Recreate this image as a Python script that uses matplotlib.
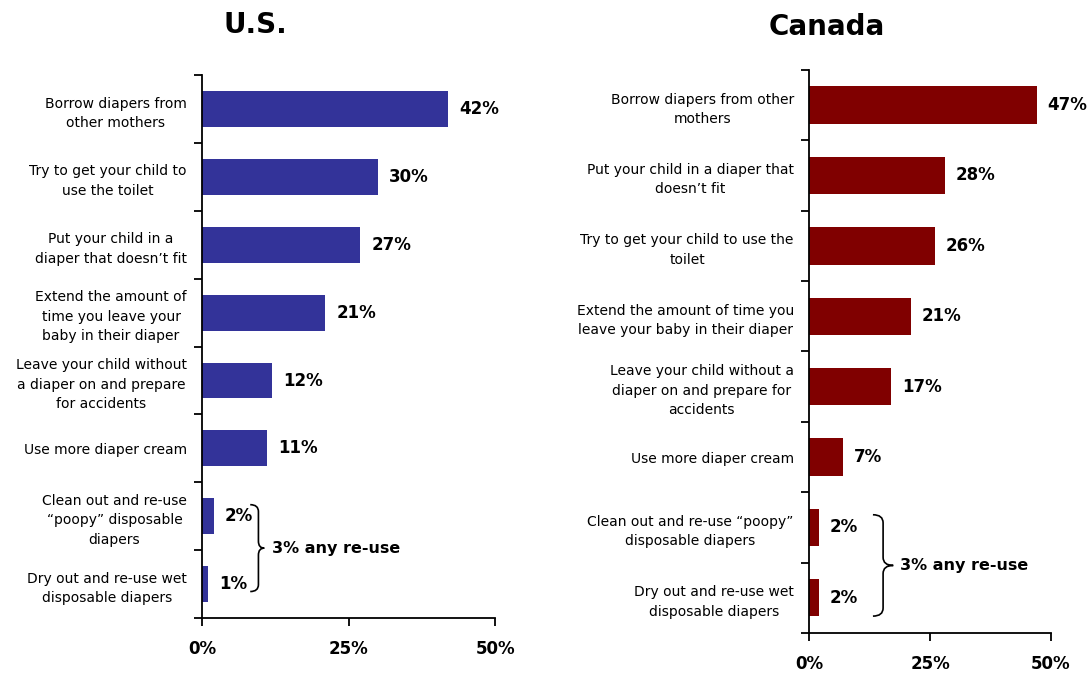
import matplotlib.pyplot as plt
from matplotlib.path import Path
from matplotlib.patches import PathPatch
import numpy as np

# data
us_labels = ['Borrow diapers from\nother mothers',
             'Try to get your child to\nuse the toilet',
             'Put your child in a\ndiaper that doesn\u2019t fit',
             'Extend the amount of\ntime you leave your\nbaby in their diaper',
             'Leave your child without\na diaper on and prepare\nfor accidents',
             'Use more diaper cream',
             'Clean out and re-use\n\u201cpoopy\u201d disposable\ndiapers',
             'Dry out and re-use wet\ndisposable diapers']
us_values = [42, 30, 27, 21, 12, 11, 2, 1]

ca_labels = ['Borrow diapers from other\nmothers',
             'Put your child in a diaper that\ndoesn\u2019t fit',
             'Try to get your child to use the\ntoilet',
             'Extend the amount of time you\nleave your baby in their diaper',
             'Leave your child without a\ndiaper on and prepare for\naccidents',
             'Use more diaper cream',
             'Clean out and re-use \u201cpoopy\u201d\ndisposable diapers',
             'Dry out and re-use wet\ndisposable diapers']
ca_values = [47, 28, 26, 21, 17, 7, 2, 2]

reuse_text = '3% any re-use'
x_ticks = [0, 25, 50]
x_ticklabels = ['0%', '25%', '50%']

plt.rcParams['font.family'] = 'DejaVu Sans'

fig = plt.figure(figsize=(10.87, 6.76), dpi=100)


def brace(ax, x0, xv, xtip, ytop, ybot):
    ymid = (ytop + ybot) / 2
    r = (ybot - ytop) * 0.08
    verts = [(x0, ytop), (xv, ytop), (xv, ytop + r),
             (xv, ymid - r),
             (xv, ymid), (xtip, ymid),
             (xv, ymid), (xv, ymid + r),
             (xv, ybot - r),
             (xv, ybot), (x0, ybot)]
    codes = [Path.MOVETO, Path.CURVE3, Path.CURVE3,
             Path.LINETO,
             Path.CURVE3, Path.CURVE3,
             Path.CURVE3, Path.CURVE3,
             Path.LINETO,
             Path.CURVE3, Path.CURVE3]
    ax.add_patch(PathPatch(Path(verts, codes), fill=False, lw=1.2,
                           edgecolor='black', clip_on=False))


def panel(rect, labels, values, color, brace_x, text_x, brace_y):
    ax = fig.add_axes(rect)
    y = np.arange(len(values))
    ax.barh(y, values, height=0.53, color=color)
    ax.set_xlim(0, 50)
    ax.set_ylim(len(values) - 0.5, -0.5)
    for s in ['top', 'right']:
        ax.spines[s].set_visible(False)
    ax.spines['left'].set_linewidth(1.3)
    ax.spines['bottom'].set_linewidth(1.3)
    ax.set_yticks(y)
    ax.set_yticklabels(labels, fontsize=10, linespacing=1.5)
    for t in ax.get_yticklabels():
        t.set_ha('right')
        t.set_multialignment('center')
    ax.tick_params(axis='y', which='major', length=0, pad=11)
    ax.set_yticks(np.arange(len(values) + 1) - 0.5, minor=True)
    ax.tick_params(axis='y', which='minor', length=6, width=1.3)
    ax.set_xticks(x_ticks)
    ax.set_xticklabels(x_ticklabels, fontsize=12, fontweight='bold')
    ax.tick_params(axis='x', length=6, width=1.3, pad=10)
    for yi, v in zip(y, values):
        ax.annotate(f'{v}%', (v, yi), xytext=(8, 0), textcoords='offset points',
                    va='center', ha='left', fontsize=12, fontweight='bold')
    x0, xv, xtip = brace_x
    brace(ax, x0, xv, xtip, brace_y[0], brace_y[1])
    ax.text(text_x, (brace_y[0] + brace_y[1]) / 2, reuse_text, va='center',
            ha='left', fontsize=11.5, fontweight='bold')
    return ax


ax1 = panel([0.186, 0.0858, 0.2695, 0.803], us_labels, us_values, '#333399',
            (8.2, 9.6, 10.6), 12.0, (5.83, 7.11))
ax2 = panel([0.7443, 0.0636, 0.2226, 0.833], ca_labels, ca_values, '#800000',
            (13.2, 15.3, 17.4), 18.8, (5.82, 7.26))

fig.text(0.2346, 0.963, 'U.S.', ha='center', va='center', fontsize=20,
         fontweight='bold')
fig.text(0.7608, 0.960, 'Canada', ha='center', va='center', fontsize=20,
         fontweight='bold')

fig.savefig('out.png', dpi=100)
